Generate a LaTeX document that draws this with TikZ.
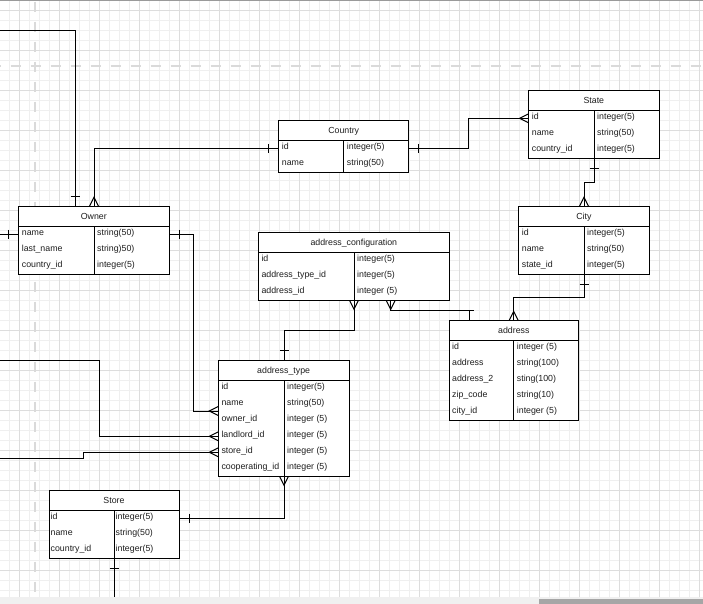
\documentclass[tikz,border=0pt]{standalone}
\usepackage{fontspec}
\setmainfont{Liberation Sans}
\usetikzlibrary{calc}

\definecolor{gridminor}{HTML}{EFEFEF}
\definecolor{gridmajor}{HTML}{DDDDDD}
\definecolor{pagedash}{HTML}{DADADA}
\definecolor{topedge}{HTML}{9A9A9A}
\definecolor{scrollbg}{HTML}{F0F0F0}
\definecolor{scrollthumb}{HTML}{A6A6A6}
\definecolor{textcol}{HTML}{1E1E1E}

\newcommand{\erfont}{\fontsize{8.8}{10}\selectfont}
\def\erIn{3}

% #1 id, #2 L, #3 T, #4 R, #5 divider x, #6 rows, #7 title
\newcommand{\ertable}[7]{%
  \pgfmathsetmacro{\erW}{#4-#2}%
  \pgfmathsetmacro{\erH}{20+16*#6}%
  \pgfmathsetmacro{\erHB}{#3+20}%
  \pgfmathsetmacro{\erB}{#3+20+16*#6}%
  \pgfmathsetmacro{\erC}{(#2+#4)/2}%
  \def\erL{#2}\def\erD{#5}%
  \node[tablebox, minimum width=\erW pt, minimum height=\erH pt, anchor=north west] (#1) at (#2,#3) {};
  \draw[tableline] (#2,\erHB) -- (#4,\erHB);
  \draw[tableline] (#5,\erHB) -- (#5,\erB);
  \coordinate (#1-div) at (#5,#3);
  \node[titletext] (#1-title) at (\erC,#3+12.8) {#7};
}
% #1 row name, #2 index, #3 left text, #4 right text
\newcommand{\errow}[4]{%
  \pgfmathsetmacro{\erRowY}{\erHB+8+16*(#2-1)}%
  \pgfmathsetmacro{\erBase}{\erHB+9.4+16*(#2-1)}%
  \coordinate (#1) at (\erL,\erRowY);
  \node[celltext] (#1-l) at (\erL+\erIn,\erBase) {#3};
  \node[celltext] (#1-r) at (\erD+\erIn,\erBase) {#4};
}

\tikzset{
  tablebox/.style={draw=black, fill=white, line width=1pt, inner sep=0pt, outer sep=0pt},
  tableline/.style={draw=black, line width=1pt},
  titletext/.style={anchor=base, inner sep=0pt, font=\erfont, text=textcol},
  celltext/.style={anchor=base west, inner sep=0pt, font=\erfont, text=textcol},
  conn/.style={draw=black, line width=1pt},
  tickN/.pic={\draw[conn] (-4.5,-10) -- (4.5,-10);},
  tickS/.pic={\draw[conn] (-4.5,10) -- (4.5,10);},
  tickW/.pic={\draw[conn] (-10,-4.5) -- (-10,4.5);},
  tickE/.pic={\draw[conn] (10,-4.5) -- (10,4.5);},
  crowN/.pic={\draw[conn] (-4.5,0) -- (0,-9) -- (4.5,0);},
  crowS/.pic={\draw[conn] (-4.5,0) -- (0,9) -- (4.5,0);},
  crowW/.pic={\draw[conn] (0,-4.5) -- (-9,0) -- (0,4.5);},
}

\begin{document}
\begin{tikzpicture}[x=1pt,y=-1pt]
\useasboundingbox (0,0) rectangle (703,604);
\fill[white] (0,0) rectangle (703,604);

% grid
\foreach \k in {0,...,69} \draw[gridminor, line width=1pt] (9.3+10*\k,0) -- (9.3+10*\k,596.7);
\foreach \k in {0,...,59} \draw[gridminor, line width=1pt] (0,0.3+10*\k) -- (703,0.3+10*\k);
\foreach \k in {0,...,17} \draw[gridmajor, line width=1pt] (19.3+40*\k,0) -- (19.3+40*\k,596.7);
\foreach \k in {0,...,14} \draw[gridmajor, line width=1pt] (0,10.3+40*\k) -- (703,10.3+40*\k);

% page break lines
\draw[pagedash, line width=2.6pt, dash pattern=on 10pt off 10pt, dash phase=18.3pt] (35,0) -- (35,596.7);
\draw[pagedash, line width=2.6pt, dash pattern=on 10pt off 10pt, dash phase=9.3pt] (0,66) -- (703,66);
\draw[topedge, line width=1pt] (0,0.5) -- (703,0.5);

% tables
\ertable{country}{278.7}{120.3}{408.7}{343.7}{2}{Country}
\errow{country-id}{1}{id}{integer(5)}
\errow{country-name}{2}{name}{string(50)}

\ertable{state}{528.7}{90.3}{659}{594}{3}{State}
\errow{state-id}{1}{id}{integer(5)}
\errow{state-name}{2}{name}{string(50)}
\errow{state-country}{3}{country\_id}{integer(5)}

\ertable{owner}{18.7}{206.3}{169}{94}{3}{Owner}
\errow{owner-name}{1}{name}{string(50)}
\errow{owner-last}{2}{last\_name}{string)50)}
\errow{owner-country}{3}{country\_id}{integer(5)}

\ertable{city}{518.7}{206.3}{649}{584}{3}{City}
\errow{city-id}{1}{id}{integer(5)}
\errow{city-name}{2}{name}{string(50)}
\errow{city-state}{3}{state\_id}{integer(5)}

\ertable{conf}{258.3}{232.3}{449.3}{354}{3}{address\_configuration}
\errow{conf-id}{1}{id}{integer(5)}
\errow{conf-type}{2}{address\_type\_id}{integer(5)}
\errow{conf-addr}{3}{address\_id}{integer (5)}

\ertable{addr}{449}{320.3}{578.7}{513.7}{5}{address}
\errow{addr-id}{1}{id}{integer (5)}
\errow{addr-address}{2}{address}{string(100)}
\errow{addr-address2}{3}{address\_2}{sting(100)}
\errow{addr-zip}{4}{zip\_code}{string(10)}
\errow{addr-city}{5}{city\_id}{integer (5)}

\ertable{atype}{218.3}{360.3}{349}{284}{6}{address\_type}
\errow{atype-id}{1}{id}{integer(5)}
\errow{atype-name}{2}{name}{string(50)}
\errow{atype-owner}{3}{owner\_id}{integer (5)}
\errow{atype-landlord}{4}{landlord\_id}{integer (5)}
\errow{atype-store}{5}{store\_id}{integer (5)}
\errow{atype-coop}{6}{cooperating\_id}{integer (5)}

\def\erIn{1.5}
\ertable{store}{49}{490.3}{179}{114}{3}{Store}
\errow{store-id}{1}{id}{integer(5)}
\errow{store-name}{2}{name}{string(50)}
\errow{store-country}{3}{country\_id}{integer(5)}

% helper coordinates
\coordinate (in1) at (0,30.3);
\coordinate (x75) at (75,0);
\coordinate (j3) at (468.3,0);
\coordinate (j4) at (0,182.3);
\coordinate (j5) at (0,297.3);
\coordinate (j6x) at (390.7,0);
\coordinate (j6) at (469,310.3);
\coordinate (j7) at (0,330.3);
\coordinate (j8) at (193.3,411);
\coordinate (in9) at (0,360.3);
\coordinate (j9) at (99,0);
\coordinate (in10) at (0,458);
\coordinate (j10) at (83.3,0);
\coordinate (out12) at (0,596.7);
\coordinate (in13) at (0,0);

% connectors
\draw[conn] (in1) -| (owner.north -| x75);
\pic at (owner.north -| x75) {tickN};

\draw[conn] (country-id) -| (owner-div);
\pic at (country-id) {tickW};
\pic at (owner-div) {crowN};

\draw[conn] (country.east |- country-id) -| (j3 |- state-id) -- (state-id);
\pic at (country.east |- country-id) {tickE};
\pic at (state-id) {crowW};

\draw[conn] (state.south -| state-div) -- (state-div |- j4) -| (city-div);
\pic at (state.south -| state-div) {tickS};
\pic at (city-div) {crowN};

\draw[conn] (city.south -| city-div) -- (city-div |- j5) -| (addr-div);
\pic at (city.south -| city-div) {tickS};
\pic at (addr-div) {crowN};

\draw[conn] (conf.south -| j6x) |- (j6) -- (addr.north -| j6);
\pic at (conf.south -| j6x) {crowS};
\pic at (addr.north -| j6) {tickN};

\draw[conn] (conf.south -| conf-div) -- (conf-div |- j7) -| (atype-div);
\pic at (conf.south -| conf-div) {crowS};
\pic at (atype-div) {tickN};

\draw[conn] (owner.east |- owner-name) -| (j8) -- (atype.west |- j8);
\pic at (owner.east |- owner-name) {tickE};
\pic at (atype.west |- j8) {crowW};

\draw[conn] (in9) -| (j9 |- atype-landlord) -- (atype-landlord);
\pic at (atype-landlord) {crowW};

\draw[conn] (in10) -| (j10 |- atype-store) -- (atype-store);
\pic at (atype-store) {crowW};

\draw[conn] (atype.south -| atype-div) |- (store.east |- store-id);
\pic at (atype.south -| atype-div) {crowS};
\pic at (store.east |- store-id) {tickE};

\draw[conn] (store.south -| store-div) -- (store-div |- out12);
\pic at (store.south -| store-div) {tickS};

\draw[conn] (owner-name) -- (in13 |- owner-name);
\pic at (owner-name) {tickW};

% bottom scroll area
\fill[scrollbg] (0,596.7) rectangle (703,604);
\fill[scrollthumb] (539,599) rectangle (703,604);
\end{tikzpicture}
\end{document}
